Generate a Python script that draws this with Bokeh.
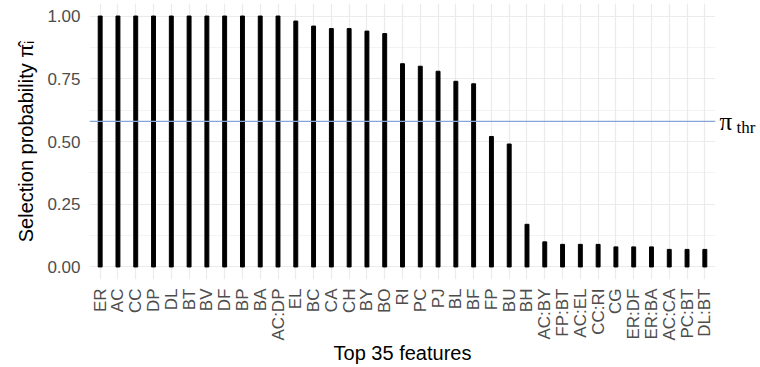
import math
from bokeh.plotting import figure
from bokeh.models import Range1d, FixedTicker, Span, LinearAxis, ColumnDataSource
from bokeh.embed import file_html
from bokeh.resources import INLINE

# Selection probabilities of the top 35 features
features = ["ER", "AC", "CC", "DP", "DL", "BT", "BV", "DF", "BP", "BA",
            "AC:DP", "EL", "BC", "CA", "CH", "BY", "BO", "RI", "PC", "PJ",
            "BL", "BF", "FP", "BU", "BH", "AC:BY", "FP:BT", "AC:EL", "CC:RI",
            "CG", "ER:DF", "ER:BA", "AC:CA", "PC:BT", "DL:BT"]
probs = [1.00, 1.00, 1.00, 1.00, 1.00, 1.00, 1.00, 1.00, 1.00, 1.00,
         1.00, 0.98, 0.96, 0.95, 0.95, 0.94, 0.93, 0.81, 0.80, 0.78,
         0.74, 0.73, 0.52, 0.49, 0.17, 0.10, 0.09, 0.09, 0.09, 0.08,
         0.08, 0.08, 0.07, 0.07, 0.07]
y_ticks = [0.0, 0.25, 0.5, 0.75, 1.0]
y_minor = [0.125, 0.375, 0.625, 0.875]
threshold = 0.58

positions = list(range(1, len(features) + 1))
source = ColumnDataSource(dict(x=positions, top=probs, feature=features))

FONT = "Liberation Sans"
SERIF = "Liberation Serif"
GRID = "#EBEBEB"
Y_LO, Y_HI = -0.05, 1.05

p = figure(width=760, height=367, output_backend="svg", toolbar_location=None,
           x_range=Range1d(0.4, len(features) + 0.6),
           y_range=Range1d(Y_LO, Y_HI),
           min_border_left=89, min_border_right=45,
           min_border_top=3, min_border_bottom=88)
p.outline_line_color = None
p.background_fill_color = "white"
p.border_fill_color = "white"

p.vbar(x="x", top="top", bottom=0, width=0.22, color="black", source=source)

# axes
p.xaxis.ticker = FixedTicker(ticks=positions)
p.xaxis.major_label_overrides = {i: f for i, f in zip(positions, features)}
p.xaxis.major_label_orientation = math.pi / 2
p.yaxis.ticker = FixedTicker(ticks=y_ticks, minor_ticks=y_minor)
p.yaxis.major_label_overrides = {t: f"{t:.2f}" for t in y_ticks}


def plain(ax):
    ax.axis_line_color = None
    ax.major_tick_line_color = None
    ax.minor_tick_line_color = None
    ax.major_tick_out = 0
    ax.major_tick_in = 0
    ax.minor_tick_out = 0
    ax.minor_tick_in = 0


for ax in (p.xaxis[0], p.yaxis[0]):
    plain(ax)
    ax.major_label_text_font = FONT
    ax.major_label_text_font_size = "17px"
    ax.major_label_text_color = "#4D4D4D"
    ax.axis_label_text_font = FONT
    ax.axis_label_text_font_size = "20px"
    ax.axis_label_text_font_style = "normal"
    ax.axis_label_text_color = "black"

p.xaxis.axis_label = "Top 35 features"
p.yaxis.axis_label = "Selection probability \u03c0\u0302\u1d62"
p.xaxis.major_label_standoff = 9
p.yaxis.major_label_standoff = 9
p.xaxis.axis_label_standoff = -1
p.yaxis.axis_label_standoff = 7

# grid
p.xgrid.ticker = FixedTicker(ticks=positions)
p.xgrid.grid_line_color = GRID
p.xgrid.grid_line_width = 1.2
p.ygrid.ticker = FixedTicker(ticks=y_ticks, minor_ticks=y_minor)
p.ygrid.grid_line_color = GRID
p.ygrid.grid_line_width = 1.2
p.ygrid.minor_grid_line_color = GRID
p.ygrid.minor_grid_line_width = 0.6

# threshold line
p.add_layout(Span(location=threshold, dimension="width",
                  line_color="#86A3DA", line_width=1.2))

# threshold symbol on the right: "π" with a lowered "thr" subscript
pi_axis = LinearAxis(ticker=FixedTicker(ticks=[threshold]),
                     major_label_overrides={threshold: "\u03c0"})
plain(pi_axis)
pi_axis.major_label_standoff = 4
pi_axis.major_label_text_font = SERIF
pi_axis.major_label_text_font_size = "25px"
pi_axis.major_label_text_color = "black"
p.add_layout(pi_axis, "right")

SUB_SHIFT = 0.024
p.extra_y_ranges = {"sub": Range1d(Y_LO + SUB_SHIFT, Y_HI + SUB_SHIFT)}
sub_axis = LinearAxis(y_range_name="sub", ticker=FixedTicker(ticks=[threshold]),
                      major_label_overrides={threshold: "thr"})
plain(sub_axis)
sub_axis.major_label_standoff = 1
sub_axis.major_label_text_font = SERIF
sub_axis.major_label_text_font_size = "17px"
sub_axis.major_label_text_color = "black"
p.add_layout(sub_axis, "right")

open("out.html", "w").write(file_html(p, INLINE))
